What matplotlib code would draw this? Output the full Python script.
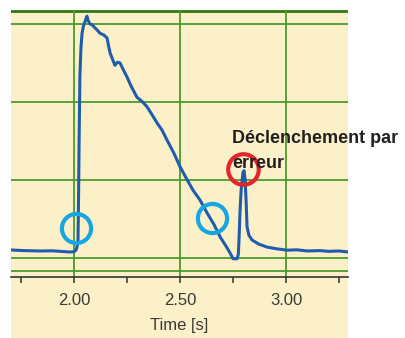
import matplotlib
matplotlib.use("Agg")
import matplotlib.pyplot as plt
from matplotlib.patches import Rectangle

# signal (time in s, amplitude in grid units)
time_s = [1.703, 1.760, 1.840, 1.900, 1.950, 1.981, 2.000, 2.009, 2.015, 2.019,
          2.022, 2.024, 2.028, 2.033, 2.038, 2.045, 2.052, 2.058, 2.061, 2.066,
          2.075, 2.085, 2.099, 2.110, 2.123, 2.140, 2.156, 2.163, 2.170, 2.180,
          2.193, 2.205, 2.217, 2.235, 2.250, 2.270, 2.297, 2.320, 2.344, 2.365,
          2.392, 2.415, 2.439, 2.470, 2.500, 2.530, 2.561, 2.595, 2.627, 2.660,
          2.689, 2.715, 2.736, 2.750, 2.769, 2.775, 2.778, 2.783, 2.788, 2.797,
          2.802, 2.807, 2.812, 2.816, 2.825, 2.840, 2.870, 2.910, 2.950, 3.005,
          3.050, 3.100, 3.160, 3.200, 3.250, 3.292]
signal = [0.103, 0.095, 0.090, 0.092, 0.082, 0.077, 0.080, 0.100, 0.150, 0.230,
          0.900, 1.470, 2.350, 2.700, 2.880, 2.980, 3.030, 3.080, 3.100, 3.050,
          3.000, 2.990, 2.950, 2.920, 2.880, 2.860, 2.820, 2.720, 2.630, 2.560,
          2.470, 2.510, 2.500, 2.400, 2.320, 2.200, 2.060, 2.010, 1.940, 1.850,
          1.730, 1.640, 1.510, 1.350, 1.170, 1.020, 0.870, 0.740, 0.580, 0.430,
          0.270, 0.160, 0.064, -0.010, -0.010, 0.050, 0.230, 0.600, 0.870, 1.100,
          1.120, 1.000, 0.700, 0.400, 0.290, 0.230, 0.180, 0.140, 0.120, 0.100,
          0.105, 0.090, 0.095, 0.085, 0.090, 0.077]

# marked spots (blue = good triggers, red = false trigger)
blue_marks_t = [2.009, 2.651]
blue_marks_v = [0.385, 0.513]
red_mark_t = [2.795]
red_mark_v = [1.147]

major_ticks = [2.00, 2.50, 3.00]
minor_ticks = [1.75, 2.25, 2.75, 3.25]
grid_rows = [0, 1, 2, 3]

cream = "#fcf0c9"
green = "#4c9a2c"

fig = plt.figure(figsize=(4.06, 3.38), dpi=100)
fig.patch.set_facecolor("white")
fig.patches.append(Rectangle((11 / 406, 0), 337 / 406, 1 - 10 / 338,
                             transform=fig.transFigure, facecolor=cream,
                             edgecolor="none", zorder=-5))

ax = fig.add_axes([11 / 406, 1 - 277 / 338, 337 / 406, 267 / 338])
ax.set_zorder(2)
ax.set_facecolor(cream)
ax.set_xlim(1.703, 3.292)
ax.set_ylim(-0.2436, 3.179)

for r in grid_rows:
    ax.axhline(r, color=green, lw=1.3, zorder=1)
ax.axhline(3.167, color="#2f7a14", lw=2.0, zorder=1)
ax.axhline(-0.1667, color=green, lw=1.3, zorder=1)
for t in major_ticks:
    ax.axvline(t, color=green, lw=1.3, zorder=1)

ax.plot(time_s, signal, color="#1f5cad", lw=2.2, zorder=3)

ax.plot(blue_marks_t, blue_marks_v, "o", ms=21, mfc="none", mec="#16a6e3",
        mew=3.0, zorder=4, clip_on=False)
ax.plot(red_mark_t, red_mark_v, "o", ms=22, mfc="none", mec="#e3262b",
        mew=3.0, zorder=4, clip_on=False)

for s in ["top", "left", "right"]:
    ax.spines[s].set_visible(False)
ax.spines["bottom"].set_color("#333333")
ax.spines["bottom"].set_linewidth(1.2)
ax.set_yticks([])
ax.set_xticks(major_ticks)
ax.set_xticklabels(["2.00", "2.50", "3.00"])
ax.set_xticks(minor_ticks, minor=True)
ax.tick_params(axis="x", which="both", direction="out", length=4.5, width=1.1,
               color="#333333", pad=7, labelsize=12, labelcolor="#3a3a3a")
ax.set_xlabel("Time [s]", fontsize=12, color="#3a3a3a", labelpad=7,
              family="Liberation Sans")
for lab in ax.get_xticklabels():
    lab.set_family("Liberation Sans")

fig.text(232 / 406, 1 - 143 / 338, "Déclenchement par", fontsize=13,
         fontweight="bold", family="Liberation Sans", color="#231f20",
         ha="left", va="baseline", zorder=5)
fig.text(232 / 406, 1 - 168 / 338, "erreur", fontsize=13,
         fontweight="bold", family="Liberation Sans", color="#231f20",
         ha="left", va="baseline", zorder=5)

fig.savefig("out.png", dpi=100, facecolor=fig.get_facecolor())
